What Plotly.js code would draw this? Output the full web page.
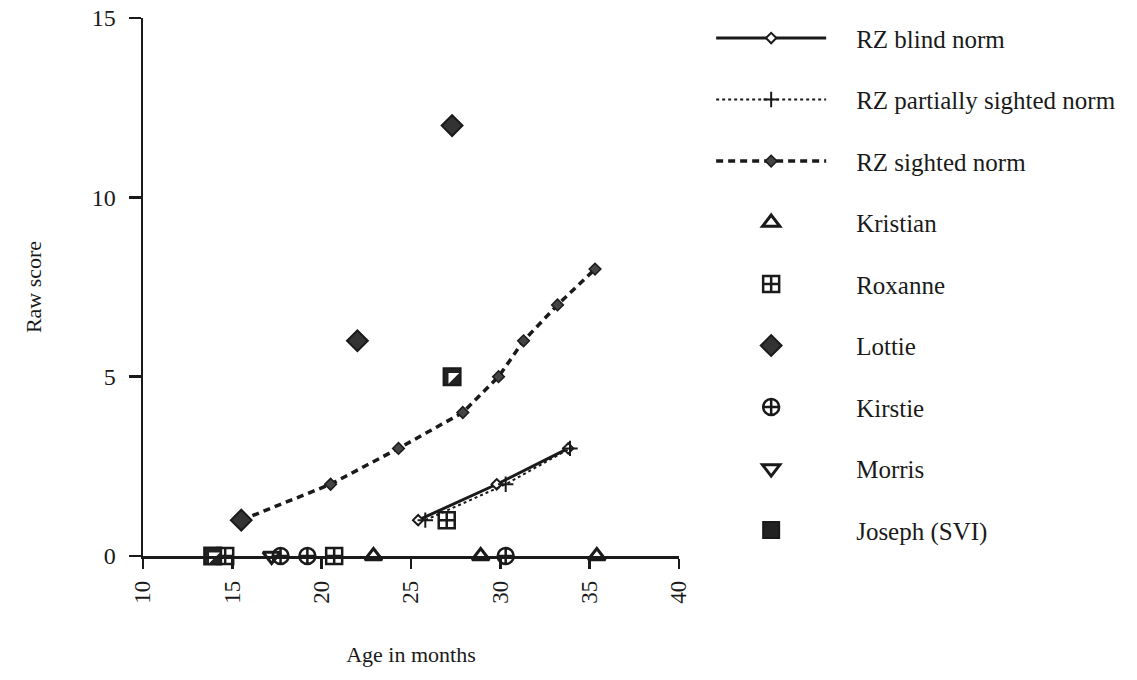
<!DOCTYPE html>
<html><head><meta charset="utf-8">
<script src="https://cdn.plot.ly/plotly-3.0.1.min.js"></script>
<style>html,body{margin:0;padding:0;background:#fff;}#chart{width:1137px;height:680px;}</style>
</head><body><div id="chart"></div>
<script>
// Norm curves
const blindAge = [25.4, 29.8, 33.8];
const blindScore = [1, 2, 3];
const partialAge = [25.8, 30.3, 33.9];
const partialScore = [1, 2, 3];
const sightedAge = [15.5, 20.5, 24.3, 27.9, 29.9, 31.3, 33.2, 35.3];
const sightedScore = [1, 2, 3, 4, 5, 6, 7, 8];
// Individual children
const kristianAge = [22.9, 28.9, 35.4];
const kristianScore = [0, 0, 0];
const roxanneAge = [14.6, 20.7, 27.0];
const roxanneScore = [0, 0, 1];
const lottieAge = [15.5, 22.0, 27.3];
const lottieScore = [1, 6, 12];
const kirstieAge = [17.7, 19.2, 30.3];
const kirstieScore = [0, 0, 0];
const morrisAge = [17.2];
const morrisScore = [0];
const josephAge = [13.9, 27.3];
const josephScore = [0, 5];
const xTicks = [10, 15, 20, 25, 30, 35, 40];
const yTicks = [0, 5, 10, 15];

const ink = '#1a1a1a';
const grey = '#333333';
const pad = '\u00a0\u00a0\u00a0\u00a0';
const lineMk = (sym, size, fill, lw) => ({symbol: sym, size: size, color: fill, line: {color: ink, width: lw}});

const traces = [
  {x: blindAge, y: blindScore, name: 'RZ blind norm', mode: 'lines+markers',
   line: {color: ink, width: 3, dash: 'solid'}, marker: lineMk('diamond', 8, '#ffffff', 2), legendgroup: 'g1'},
  {x: partialAge, y: partialScore, name: 'RZ partially sighted norm', mode: 'lines+markers',
   line: {color: ink, width: 2, dash: 'dot'}, marker: lineMk('cross-thin-open', 11, ink, 2), legendgroup: 'g2'},
  {x: sightedAge, y: sightedScore, name: 'RZ sighted norm', mode: 'lines+markers',
   line: {color: ink, width: 3.5, dash: '7px,5px'}, marker: lineMk('diamond', 9, '#444444', 1.5), legendgroup: 'g3'},
  {x: kristianAge, y: kristianScore, name: 'Kristian', mode: 'markers',
   marker: lineMk('triangle-up-open', 15, ink, 3), legendgroup: 'g4'},
  {x: roxanneAge, y: roxanneScore, name: 'Roxanne', mode: 'markers',
   marker: lineMk('square-cross-open', 16, ink, 2.5), legendgroup: 'g5'},
  {x: lottieAge, y: lottieScore, name: 'Lottie', mode: 'markers',
   marker: lineMk('diamond', 16, grey, 2), legendgroup: 'g6'},
  {x: kirstieAge, y: kirstieScore, name: 'Kirstie', mode: 'markers',
   marker: lineMk('circle-cross-open', 16, ink, 2.5), legendgroup: 'g7'},
  {x: morrisAge, y: morrisScore, name: 'Morris', mode: 'markers',
   marker: lineMk('triangle-down-open', 15, ink, 3), legendgroup: 'g8'},
  {x: josephAge, y: josephScore, name: 'Joseph (SVI)', mode: 'markers',
   marker: lineMk('square', 17, '#222222', 2), legendgroup: 'g9'},
  {x: josephAge, y: josephScore, name: 'Joseph (SVI) hi', mode: 'markers', showlegend: false,
   marker: {symbol: 'triangle-nw', size: 12, color: '#ffffff', line: {width: 0}}, legendgroup: 'g9'}
];
traces.forEach(t => { t.cliponaxis = false; t.hoverinfo = 'skip'; if (t.showlegend !== false) t.name = pad + t.name; });

const font = {family: '"Liberation Serif", "Times New Roman", serif', color: ink};
const layout = {
  width: 1137, height: 680,
  margin: {l: 143, r: 458, t: 18, b: 124},
  paper_bgcolor: '#ffffff', plot_bgcolor: '#ffffff',
  font: Object.assign({size: 22}, font),
  showlegend: true,
  legend: {x: 1.06, xanchor: 'left', y: 1.005, yanchor: 'top', maxheight: 670,
    font: Object.assign({size: 25}, font), itemwidth: 110, tracegroupgap: 26,
    bgcolor: 'rgba(0,0,0,0)', borderwidth: 0},
  xaxis: {range: [10, 40], tickvals: xTicks, ticktext: xTicks.map(String), tickangle: -90,
    showgrid: false, zeroline: false, showline: true, linecolor: ink, linewidth: 2.5,
    ticks: 'outside', ticklen: 10, tickwidth: 2.5, tickcolor: ink, ticklabelstandoff: 3,
    tickfont: Object.assign({size: 23}, font),
    title: {text: 'Age in months', font: Object.assign({size: 22}, font), standoff: 44}},
  yaxis: {range: [0, 15], tickvals: yTicks, ticktext: yTicks.map(String),
    showgrid: false, zeroline: false, showline: true, linecolor: ink, linewidth: 2.5,
    ticks: 'outside', ticklen: 12, tickwidth: 2.5, tickcolor: ink, ticklabelstandoff: 8,
    tickfont: Object.assign({size: 24}, font),
    title: {text: 'Raw score', font: Object.assign({size: 22}, font), standoff: 44}}
};
Plotly.newPlot('chart', traces, layout, {staticPlot: true, displayModeBar: false});
</script>
</body></html>
